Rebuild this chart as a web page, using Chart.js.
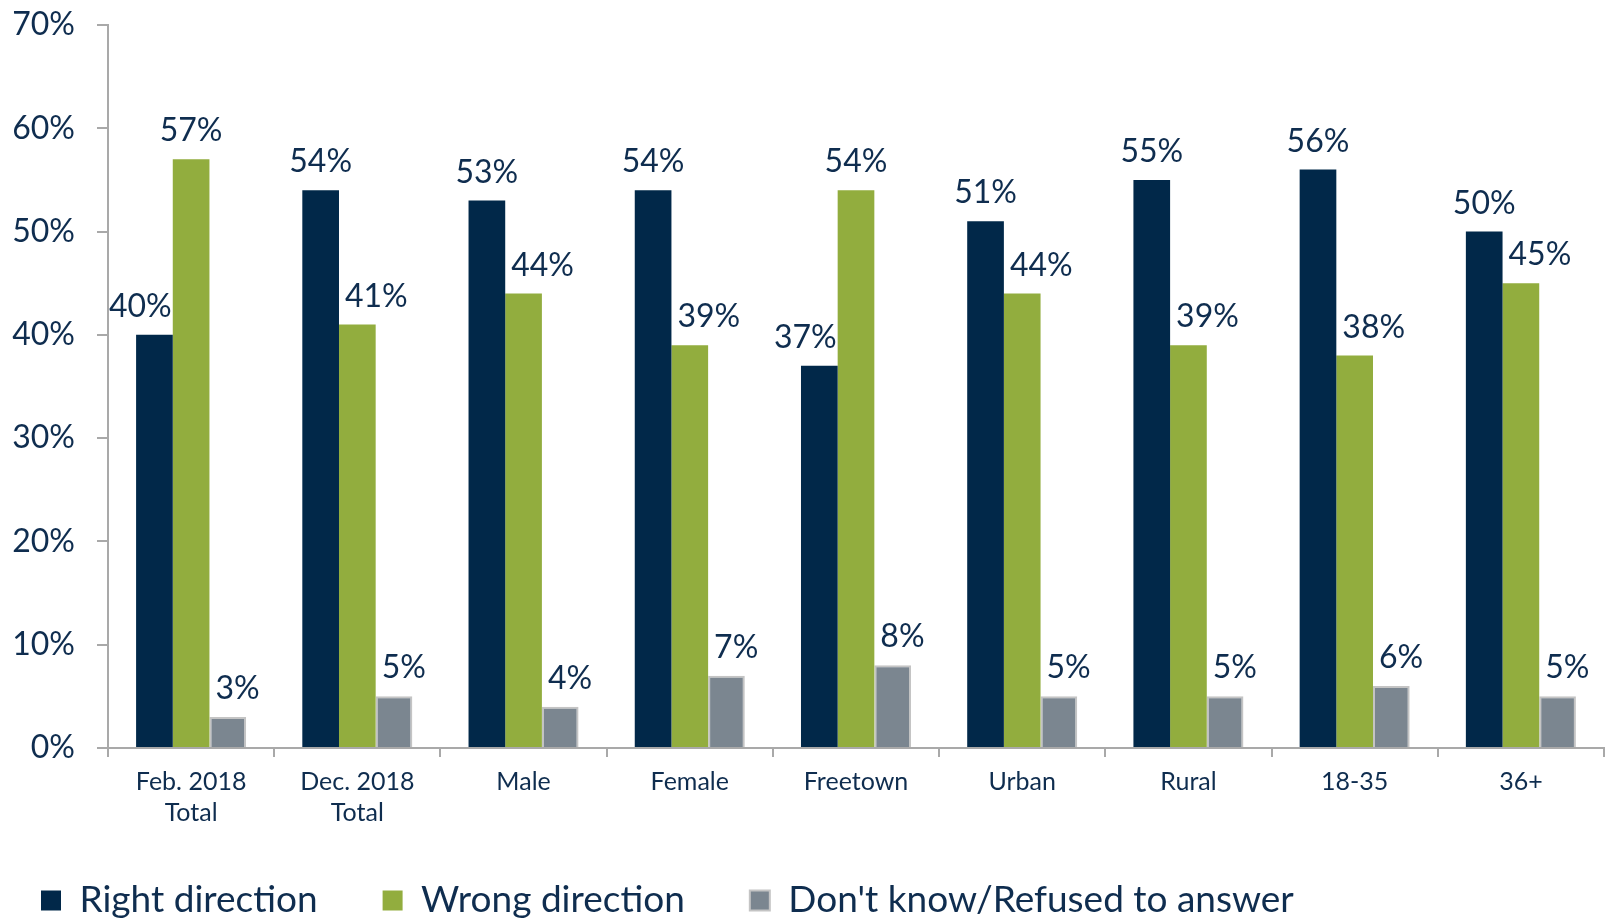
<!DOCTYPE html>
<html>
<head>
<meta charset="utf-8">
<script src="https://cdn.jsdelivr.net/npm/chart.js@4.4.1/dist/chart.umd.min.js"></script>
<style>
  html, body { margin: 0; padding: 0; background: #fff; }
</style>
</head>
<body>
<canvas id="chart" width="1606" height="922"></canvas>
<script>
var categories = [['Feb. 2018', 'Total'], ['Dec. 2018', 'Total'], 'Male', 'Female', 'Freetown', 'Urban', 'Rural', '18-35', '36+'];
var seriesNames = ['Right direction', 'Wrong direction', "Don't know/Refused to answer"];
var rightDirection = [40, 54, 53, 54, 37, 51, 55, 56, 50];
var wrongDirection = [57, 41, 44, 39, 54, 44, 39, 38, 45];
var dontKnow = [3, 5, 4, 7, 8, 5, 5, 6, 5];
var yMax = 70;
var yStep = 10;

var textColor = '#0f2d4f';
var axisColor = '#a9a9a9';

// value labels above each bar, nudged sideways when a taller neighbour is in the way
var barLabels = {
  id: 'barLabels',
  afterDatasetsDraw: function(chart) {
    var ctx = chart.ctx;
    var metas = chart.data.datasets.map(function(ds, i) { return chart.getDatasetMeta(i); });
    ctx.save();
    ctx.font = '32px Lato';
    ctx.fillStyle = textColor;
    ctx.textAlign = 'center';
    ctx.textBaseline = 'alphabetic';
    metas.forEach(function(meta, d) {
      meta.data.forEach(function(bar, i) {
        var text = chart.data.datasets[d].data[i] + '%';
        var w = ctx.measureText(text).width;
        var x = bar.x;
        var baseline = bar.y - 18;
        var left = d > 0 ? metas[d - 1].data[i] : null;
        var right = d < metas.length - 1 ? metas[d + 1].data[i] : null;
        if (left && left.y < baseline + 6) {
          x = Math.max(x, left.x + left.width / 2 + 6 + w / 2);
        }
        if (right && right.y < baseline + 6) {
          x = Math.min(x, right.x - right.width / 2 - 1 - w / 2);
        }
        ctx.fillText(text, x, baseline);
      });
    });
    ctx.restore();
  }
};

// legend row starts closer to the left edge than its item spacing gives,
// and the two-line category labels need room below the x scale box
var layoutTweaks = {
  id: 'layoutTweaks',
  afterLayout: function(chart) {
    chart.legend.left = -24;
    chart.scales.x.bottom = chart.height;
  }
};

document.addEventListener('DOMContentLoaded', function() {
  Chart.defaults.font.family = 'Lato';
  Chart.defaults.color = textColor;

  new Chart(document.getElementById('chart'), {
    type: 'bar',
    data: {
      labels: categories,
      datasets: [{
        label: seriesNames[0],
        data: rightDirection,
        backgroundColor: '#012849',
        borderWidth: 0
      }, {
        label: seriesNames[1],
        data: wrongDirection,
        backgroundColor: '#92ad3e',
        borderWidth: 0
      }, {
        label: seriesNames[2],
        data: dontKnow,
        backgroundColor: '#7b8690',
        borderColor: '#c4c4c4',
        borderWidth: 2
      }]
    },
    options: {
      responsive: false,
      animation: false,
      devicePixelRatio: 1,
      layout: {
        padding: { top: 25, right: 2, bottom: -7, left: 0 }
      },
      datasets: {
        bar: {
          categoryPercentage: 0.662,
          barPercentage: 1.0
        }
      },
      plugins: {
        tooltip: { enabled: false },
        legend: {
          position: 'bottom',
          align: 'start',
          labels: {
            font: { size: 37 },
            color: textColor,
            boxWidth: 20,
            boxHeight: 20,
            padding: 65
          }
        }
      },
      scales: {
        x: {
          grid: {
            display: true,
            drawOnChartArea: false,
            drawTicks: true,
            tickLength: 9,
            color: axisColor,
            lineWidth: 2,
            offset: true
          },
          border: { display: true, color: axisColor, width: 2 },
          ticks: {
            font: { size: 25, lineHeight: 1.24 },
            color: textColor,
            padding: 9,
            maxRotation: 0,
            autoSkip: false
          },
          afterFit: function(scale) {
            scale.height = 69;
          }
        },
        y: {
          min: 0,
          max: yMax,
          grid: {
            display: true,
            drawOnChartArea: false,
            drawTicks: true,
            tickLength: 11,
            color: axisColor,
            lineWidth: 2
          },
          border: { display: true, color: axisColor, width: 2 },
          ticks: {
            stepSize: yStep,
            font: { size: 32 },
            color: textColor,
            padding: 22,
            callback: function(value) {
              return value + '%';
            }
          },
          afterFit: function(scale) {
            scale.width = 108;
            scale.paddingTop = 0;
            scale.paddingBottom = 0;
          }
        }
      }
    },
    plugins: [barLabels, layoutTweaks]
  });
});
</script>
</body>
</html>
